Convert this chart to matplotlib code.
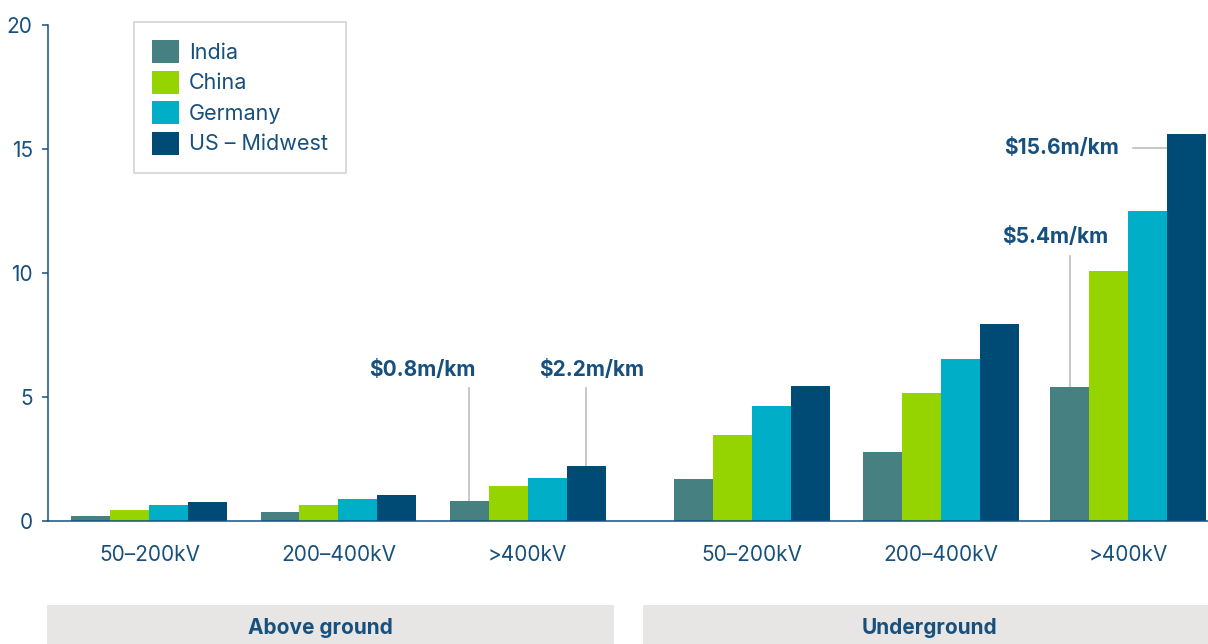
import numpy as np
import matplotlib.pyplot as plt
from matplotlib.patches import Rectangle

plt.rcParams['font.family'] = ['Inter', 'DejaVu Sans']

# cost of transmission line, $m per km
voltage = ["50–200kV", "200–400kV", ">400kV", "50–200kV", "200–400kV", ">400kV"]
countries = ["India", "China", "Germany", "US – Midwest"]
india = [0.2, 0.35, 0.8, 1.7, 2.8, 5.4]
china = [0.45, 0.65, 1.4, 3.45, 5.15, 10.1]
germany = [0.65, 0.9, 1.75, 4.65, 6.55, 12.5]
us_midwest = [0.75, 1.05, 2.2, 5.45, 7.95, 15.6]
sections = ["Above ground", "Underground"]

colors = ["#468080", "#96d400", "#00aec7", "#004a76"]
text_col = "#17507d"

W, H = 1208, 644
fig = plt.figure(figsize=(W / 100, H / 100), dpi=100)
ax = fig.add_axes([48 / W, 1 - 521 / H, 1 - 48 / W, (521 - 25) / H])

centers = np.array([2.6, 7.45, 12.3, 18.05, 22.9, 27.7])
series = [india, china, germany, us_midwest]
for i, (vals, c, name) in enumerate(zip(series, colors, countries)):
    ax.bar(centers + (i - 1.5), vals, width=1.0, color=c, label=name, zorder=2)

ax.set_xlim(0, 29.75)
ax.set_ylim(0, 20)
ax.set_yticks([0, 5, 10, 15, 20])
ax.set_xticks(centers)
ax.set_xticklabels(voltage)
ax.tick_params(axis='x', length=0, pad=17, labelsize=15, labelcolor=text_col)
ax.tick_params(axis='y', length=4, width=1.1, color=text_col, pad=7,
               labelsize=15, labelcolor=text_col)
for s in ['top', 'right']:
    ax.spines[s].set_visible(False)
for s in ['left', 'bottom']:
    ax.spines[s].set_color(text_col)
    ax.spines[s].set_linewidth(1.1)
ax.spines['bottom'].set_zorder(3)

# value callouts
lc = "#bdbdbd"
lab = dict(color=text_col, fontsize=15, fontweight='bold', va='center')
x_in = centers[2] - 1.5
ax.plot([x_in, x_in], [india[2], 5.35], color=lc, lw=1.2, zorder=1)
ax.text(9.6, 6.1, f"${india[2]}m/km", ha='center', **lab)
x_us = centers[2] + 1.5
ax.plot([x_us, x_us], [us_midwest[2], 5.35], color=lc, lw=1.2, zorder=1)
ax.text(13.95, 6.1, f"${us_midwest[2]}m/km", ha='center', **lab)
x_in2 = centers[5] - 1.5
ax.plot([x_in2, x_in2], [india[5], 10.7], color=lc, lw=1.2, zorder=1)
ax.text(25.82, 11.45, f"${india[5]}m/km", ha='center', **lab)
ax.plot([27.82, centers[5] + 1.0], [15.05, 15.05], color=lc, lw=1.2, zorder=1)
ax.text(27.46, 15.05, f"${us_midwest[5]}m/km", ha='right', **lab)

leg = ax.legend(loc='upper left', bbox_to_anchor=(134 / W, 1 - 22 / H),
                bbox_transform=fig.transFigure, borderaxespad=0,
                fontsize=15.5, handlelength=1.25, handleheight=1.25,
                labelspacing=0.36, handletextpad=0.45, borderpad=0.85,
                fancybox=False, frameon=True)
leg.get_frame().set_edgecolor('#c8c8c8')
leg.get_frame().set_linewidth(1.2)
for t in leg.get_texts():
    t.set_color(text_col)

# section bands under the axis
bands = [(47, 614), (643, 1208)]
label_x = [320, 929]
for (x0, x1), lx, name in zip(bands, label_x, sections):
    fig.patches.append(Rectangle((x0 / W, 0), (x1 - x0) / W, 39 / H,
                                 transform=fig.transFigure,
                                 facecolor='#e8e6e4', edgecolor='none'))
    fig.text(lx / W, 1 - 628 / H, name, ha='center', va='center',
             fontsize=15, fontweight='bold', color=text_col)

fig.savefig("out.png", dpi=100)
